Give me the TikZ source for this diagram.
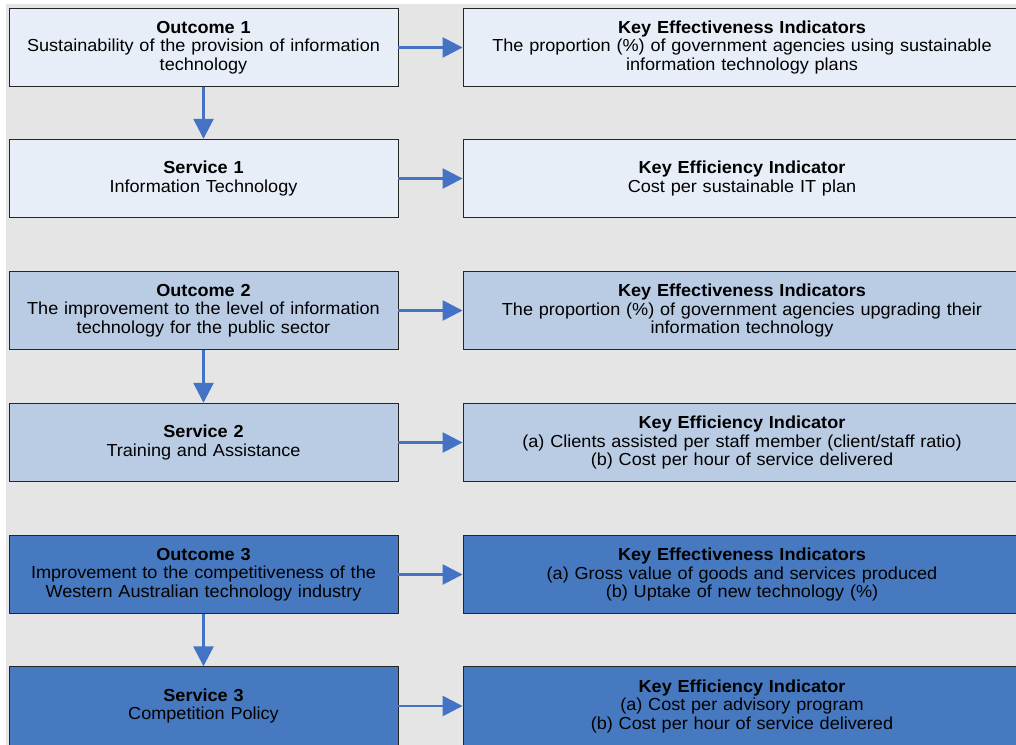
\documentclass[tikz,border=0pt]{standalone}
\usepackage{fontspec}
\setmainfont[FakeStretch=1.04]{Liberation Sans}
\usetikzlibrary{arrows.meta}
\definecolor{bggray}{HTML}{E5E5E5}
\definecolor{lightbox}{HTML}{E8EEF8}
\definecolor{midbox}{HTML}{B9CCE4}
\definecolor{darkbox}{HTML}{4779C0}
\definecolor{arrowblue}{HTML}{4472C4}
\tikzset{
  box/.style={draw=black!85, line width=0.9pt, inner sep=2pt, align=center,
    font=\fontsize{17.4}{18.5}\selectfont, text=black},
  lbox/.style={box, minimum width=389pt, minimum height=78.5pt, text width=384pt},
  rbox/.style={box, minimum width=558pt, minimum height=78.5pt, text width=550pt},
  arr/.style={draw=arrowblue, line width=2.6pt, -{Triangle[length=20pt,width=20pt]}, shorten >=0pt}
}
\begin{document}
\begin{tikzpicture}[x=1pt,y=-1pt]
\useasboundingbox (0,0) rectangle (1016,744);
\clip (0,0) rectangle (1016,744);
\fill[bggray] (6,4) rectangle (1030,760);
% row 1
\node[lbox, fill=lightbox] (o1) at (203.5,47.5) {\textbf{Outcome 1}\\Sustainability of the provision of information\\technology};
\node[rbox, fill=lightbox] (k1) at (742,47.5) {\textbf{Key Effectiveness Indicators}\\The proportion (\%) of government agencies using sustainable\\information technology plans};
\node[lbox, fill=lightbox] (s1) at (203.5,178.5) {\textbf{Service 1}\\Information Technology};
\node[rbox, fill=lightbox] (e1) at (742,178.5) {\textbf{Key Efficiency Indicator}\\Cost per sustainable IT plan};
% row 2
\node[lbox, fill=midbox] (o2) at (203.5,310.5) {\textbf{Outcome 2}\\The improvement to the level of information\\technology for the public sector};
\node[rbox, fill=midbox] (k2) at (742,310.5) {\textbf{Key Effectiveness Indicators}\\The proportion (\%) of government agencies upgrading their\\information technology};
\node[lbox, fill=midbox] (s2) at (203.5,442.5) {\textbf{Service 2}\\Training and Assistance};
\node[rbox, fill=midbox] (e2) at (742,442.5) {\textbf{Key Efficiency Indicator}\\(a) Clients assisted per staff member (client/staff ratio)\\(b) Cost per hour of service delivered};
% row 3
\node[lbox, fill=darkbox] (o3) at (203.5,574.5) {\textbf{Outcome 3}\\Improvement to the competitiveness of the\\Western Australian technology industry};
\node[rbox, fill=darkbox] (k3) at (742,574.5) {\textbf{Key Effectiveness Indicators}\\(a) Gross value of goods and services produced\\(b) Uptake of new technology (\%)};
\node[lbox, fill=darkbox] (s3) at (203.5,706) {\textbf{Service 3}\\Competition Policy};
\node[rbox, fill=darkbox] (e3) at (742,706) {\textbf{Key Efficiency Indicator}\\(a) Cost per advisory program\\(b) Cost per hour of service delivered};
% arrows
\foreach \a/\b in {o1/k1, s1/e1, o2/k2, s2/e2, o3/k3, s3/e3} {
  \draw[arr] (\a.east) -- (\b.west);
}
\foreach \a/\b in {o1/s1, o2/s2, o3/s3} {
  \draw[arr] (\a.south) -- (\b.north);
}
\end{tikzpicture}
\end{document}
